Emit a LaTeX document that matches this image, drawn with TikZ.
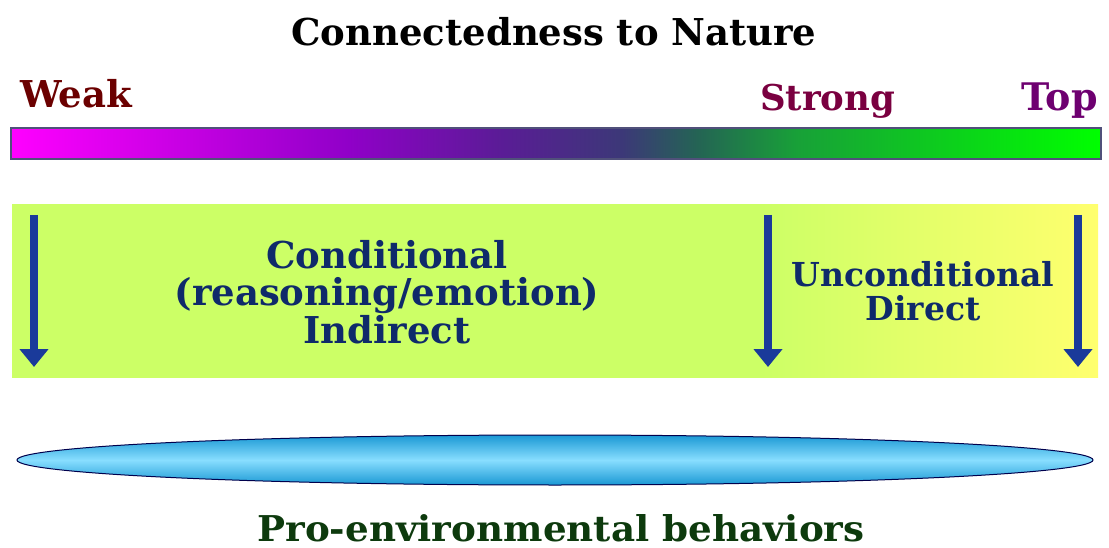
\documentclass[tikz,border=0pt]{standalone}
\usepackage{fontspec}
\setmainfont{DejaVu Serif}
\usetikzlibrary{arrows.meta}

% colours
\definecolor{weakred}{HTML}{6B0000}
\definecolor{strongred}{HTML}{7A0040}
\definecolor{topviolet}{HTML}{6E0070}
\definecolor{navytext}{HTML}{0F2A6A}
\definecolor{arrowblue}{HTML}{1A3A9A}
\definecolor{behavgreen}{HTML}{0D3A0D}
\definecolor{lime}{HTML}{CCFF66}
\definecolor{paleyellow}{HTML}{FFFF6E}
\definecolor{ovaledge}{HTML}{1A98D4}
\definecolor{ovalmid}{HTML}{88DEFF}
\definecolor{barframe}{HTML}{50507A}

% strength scale: magenta -> violet -> slate -> green
\pgfdeclarehorizontalshading{naturebar}{100bp}{%
  color(0bp)=(magenta);
  color(25bp)=(magenta);
  color(40.5bp)=(rgb,255:red,144;green,0;blue,200);
  color(47.5bp)=(rgb,255:red,90;green,28;blue,150);
  color(53bp)=(rgb,255:red,60;green,56;blue,120);
  color(56.5bp)=(rgb,255:red,36;green,100;blue,84);
  color(61bp)=(rgb,255:red,24;green,160;blue,56);
  color(75bp)=(rgb,255:red,0;green,255;blue,0);
  color(100bp)=(rgb,255:red,0;green,255;blue,0)}

% panel background: lime, turning yellow on the right
\pgfdeclarehorizontalshading{panelshade}{100bp}{%
  color(0bp)=(lime);
  color(59.5bp)=(lime);
  color(75bp)=(paleyellow);
  color(100bp)=(paleyellow)}

\tikzset{
  label/.style={inner sep=0pt, anchor=base},
  paneltext/.style={text=navytext, align=center, inner sep=0pt},
  downarrow/.style={draw=arrowblue, line width=8pt,
    -{Triangle[width=28pt,length=18pt]}},
}

\begin{document}
\begin{tikzpicture}[x=1pt,y=-1pt]
  \useasboundingbox (0,0) rectangle (1109,548);

  % title
  \node[label, font=\bfseries\fontsize{37}{40}\selectfont] (title) at (554,46)
    {Connectedness to Nature};

  % scale labels
  \node[label, anchor=base west, text=weakred,
        font=\bfseries\fontsize{37}{40}\selectfont] (weak) at (20,108) {Weak};
  \node[label, anchor=base west, text=strongred,
        font=\bfseries\fontsize{35.5}{40}\selectfont] (strong) at (760,111) {Strong};
  \node[label, anchor=base east, text=topviolet,
        font=\bfseries\fontsize{38}{40}\selectfont] (top) at (1098,111) {Top};

  % gradient bar
  \shade[shading=naturebar] (11,128) rectangle (1101,159);
  \draw[draw=barframe, line width=1.2pt] (11,128) rectangle (1101,159);

  % panel
  \shade[shading=panelshade] (12,205) rectangle (1098,377);
  \node[inner sep=0pt, minimum width=1086pt, minimum height=172pt] (panel)
    at (555,291) {};

  % panel texts
  \node[paneltext, font=\bfseries\fontsize{37}{37.5}\selectfont] (cond)
    at (387,292) {Conditional\\(reasoning/emotion)\\Indirect};
  \node[paneltext, font=\bfseries\fontsize{33}{33.5}\selectfont] (uncond)
    at (923,291) {Unconditional\\Direct};

  % arrows
  \coordinate (a1s) at (34,215);  \coordinate (a1e) at (34,367);
  \coordinate (a2s) at (768,215); \coordinate (a2e) at (768,367);
  \coordinate (a3s) at (1078,215);\coordinate (a3e) at (1078,367);
  \draw[downarrow] (a1s) -- (a1e);
  \draw[downarrow] (a2s) -- (a2e);
  \draw[downarrow] (a3s) -- (a3e);

  % behaviours oval
  \shade[top color=ovaledge, bottom color=ovaledge, middle color=ovalmid]
    (555,460) ellipse [x radius=538, y radius=25];
  \draw[draw=black!70!blue, line width=1pt]
    (555,460) ellipse [x radius=538, y radius=25];
  \node[inner sep=0pt, minimum width=1076pt, minimum height=50pt] (oval)
    at (555,460) {};

  % caption
  \node[label, text=behavgreen] (behav) at (561,541)
    {\resizebox{607pt}{27pt}{\bfseries Pro-environmental behaviors}};
\end{tikzpicture}
\end{document}
